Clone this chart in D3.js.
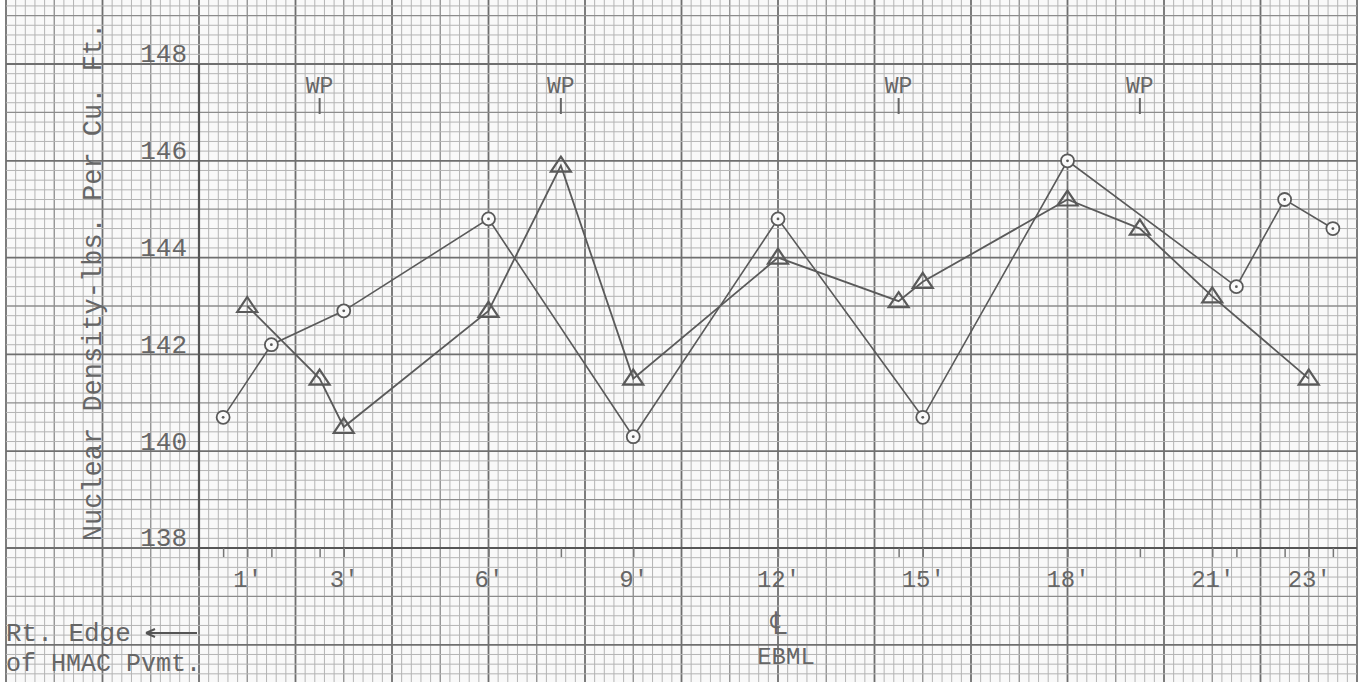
<!DOCTYPE html>
<html lang="en">
<head>
<meta charset="utf-8">
<title>Nuclear Density</title>
<script src="https://d3js.org/d3.v7.min.js"></script>
<style>
  body { margin: 0; background: #fff; }
  svg text { font-family: "Liberation Mono", "DejaVu Sans Mono", monospace; fill: #666; }
  .axis .domain { display: none; }
</style>
</head>
<body>
<script>
// data (feet from right edge of pavement, lbs per cu. ft.)
var circleFt  = [0.5, 1.5, 3, 6, 9, 12, 15, 18, 21.5, 22.5, 23.5];
var circleVal = [140.7, 142.2, 142.9, 144.8, 140.3, 144.8, 140.7, 146.0, 143.4, 145.2, 144.6];

var triFt  = [1, 2.5, 3, 6, 7.5, 9, 12, 14.5, 15, 18, 19.5, 21, 23];
var triVal = [143.0, 141.5, 140.5, 142.9, 145.9, 141.5, 144.0, 143.1, 143.5, 145.2, 144.6, 143.2, 141.5];

var xTicks = [1, 3, 6, 9, 12, 15, 18, 21, 23];
var yTicks = [138, 140, 142, 144, 146, 148];
var wpFt = [2.5, 7.5, 14.5, 19.5];

var width = 1365, height = 682;

var svg = d3.select("body").append("svg")
    .attr("width", width)
    .attr("height", height);

var x = d3.scaleLinear().domain([0, 24]).range([199, 1357]);
var y = d3.scaleLinear().domain([138, 148]).range([548, 64]);

svg.append("rect").attr("width", width).attr("height", height).attr("fill", "#fff");
svg.append("rect").attr("x", x(-4)).attr("y", 0)
    .attr("width", x(24) - x(-4)).attr("height", height).attr("fill", "#f9f9f9");

// graph paper: 5 squares per foot / per unit
var grid = svg.append("g");
var yTop = y.invert(0), yBot = y.invert(height);

d3.range(-20, 121).forEach(function(i) {
    var px = x(i * 0.2);
    grid.append("line")
        .attr("x1", px).attr("x2", px).attr("y1", 0).attr("y2", height)
        .attr("stroke", i % 10 === 0 ? "#6f6f6f" : i % 5 === 0 ? "#8c8c8c" : "#b4b4b4")
        .attr("stroke-width", i % 10 === 0 ? 1.8 : i % 5 === 0 ? 1.3 : 1);
});
d3.range(Math.ceil(yBot / 0.2), Math.floor(yTop / 0.2) + 1).forEach(function(i) {
    var py = y(i * 0.2);
    grid.append("line")
        .attr("x1", x(-4)).attr("x2", x(24)).attr("y1", py).attr("y2", py)
        .attr("stroke", i % 10 === 0 ? "#6f6f6f" : i % 5 === 0 ? "#8c8c8c" : "#b4b4b4")
        .attr("stroke-width", i % 10 === 0 ? 1.8 : i % 5 === 0 ? 1.3 : 1);
});

// axis lines
svg.append("line").attr("x1", x(0)).attr("x2", x(0)).attr("y1", y(148)).attr("y2", y(138) + 22)
    .attr("stroke", "#555").attr("stroke-width", 2.2);
svg.append("line").attr("x1", x(0)).attr("x2", x(24)).attr("y1", y(138)).attr("y2", y(138))
    .attr("stroke", "#555").attr("stroke-width", 2.2);

// small marks at each test location
var allFt = Array.from(new Set(circleFt.concat(triFt))).sort(d3.ascending);
svg.append("g").attr("class", "axis")
    .attr("transform", "translate(0," + y(138) + ")")
    .call(d3.axisBottom(x).tickValues(allFt).tickSize(9).tickFormat(""))
    .selectAll("line").attr("stroke", "#777").attr("stroke-width", 1.5);

// x labels
var xAxis = svg.append("g").attr("class", "axis")
    .attr("transform", "translate(0," + y(138) + ")")
    .call(d3.axisBottom(x).tickValues(xTicks).tickSize(0).tickPadding(22)
        .tickFormat(function(d) { return d + "'"; }));
xAxis.selectAll("text").attr("font-size", 24).attr("fill", "#6a6a6a")
    .attr("font-family", "Liberation Mono");

// y labels
var yAxis = svg.append("g").attr("class", "axis")
    .attr("transform", "translate(" + (x(0) - 12) + ",0)")
    .call(d3.axisLeft(y).tickValues(yTicks).tickSize(0).tickPadding(0));
yAxis.selectAll("text").attr("font-size", 26).attr("dy", "-0.08em").attr("fill", "#6a6a6a")
    .attr("font-family", "Liberation Mono");

// y title
svg.append("text")
    .attr("transform", "translate(" + 101 + "," + 282 + ") rotate(-90)")
    .attr("text-anchor", "middle")
    .attr("font-size", 27)
    .attr("fill", "#707070")
    .text("Nuclear Density-lbs. Per Cu. Ft.");

// wheel path markers
var wp = svg.append("g").selectAll("g").data(wpFt).enter().append("g");
wp.append("text")
    .attr("x", function(d) { return x(d); })
    .attr("y", 93)
    .attr("text-anchor", "middle")
    .attr("font-size", 23)
    .text("WP");
wp.append("line")
    .attr("x1", function(d) { return x(d); }).attr("x2", function(d) { return x(d); })
    .attr("y1", 98).attr("y2", 114)
    .attr("stroke", "#666").attr("stroke-width", 2);

// series lines
var line = d3.line().x(function(d) { return x(d[0]); }).y(function(d) { return y(d[1]); });
var circlePts = d3.zip(circleFt, circleVal);
var triPts = d3.zip(triFt, triVal);

svg.append("path").datum(circlePts).attr("d", line)
    .attr("fill", "none").attr("stroke", "#5a5a5a").attr("stroke-width", 1.6);
svg.append("path").datum(triPts).attr("d", line)
    .attr("fill", "none").attr("stroke", "#5a5a5a").attr("stroke-width", 1.8);

// circle markers
var cg = svg.append("g").selectAll("g").data(circlePts).enter().append("g")
    .attr("transform", function(d) { return "translate(" + x(d[0]) + "," + y(d[1]) + ")"; });
cg.append("circle").attr("r", 6.5).attr("fill", "#fafafa").attr("stroke", "#5a5a5a").attr("stroke-width", 1.8);
cg.append("circle").attr("r", 1.4).attr("fill", "#5a5a5a");

// triangle markers
svg.append("g").selectAll("path").data(triPts).enter().append("path")
    .attr("transform", function(d) { return "translate(" + x(d[0]) + "," + y(d[1]) + ")"; })
    .attr("d", "M0,-9L10,6L-10,6Z")
    .attr("fill", "none").attr("stroke", "#5a5a5a").attr("stroke-width", 2.2);

// notes under the axis
svg.append("text").attr("x", 6).attr("y", 641).attr("font-size", 26).attr("fill", "#555").text("Rt. Edge");
svg.append("path").attr("d", "M197,633H146M146,633l9,-4M146,633l9,4")
    .attr("fill", "none").attr("stroke", "#555").attr("stroke-width", 2);
svg.append("text").attr("x", 6).attr("y", 671).attr("font-size", 25).attr("fill", "#555").text("of HMAC Pvmt.");

// centre line symbol
svg.append("text").attr("x", x(12)).attr("y", 634).attr("text-anchor", "middle")
    .attr("font-family", "DejaVu Sans").attr("font-size", 32).attr("fill", "#555").text("\u2104");
svg.append("text").attr("x", x(12) + 8).attr("y", 664).attr("text-anchor", "middle")
    .attr("font-size", 24).attr("fill", "#666").text("EBML");
</script>
</body>
</html>
